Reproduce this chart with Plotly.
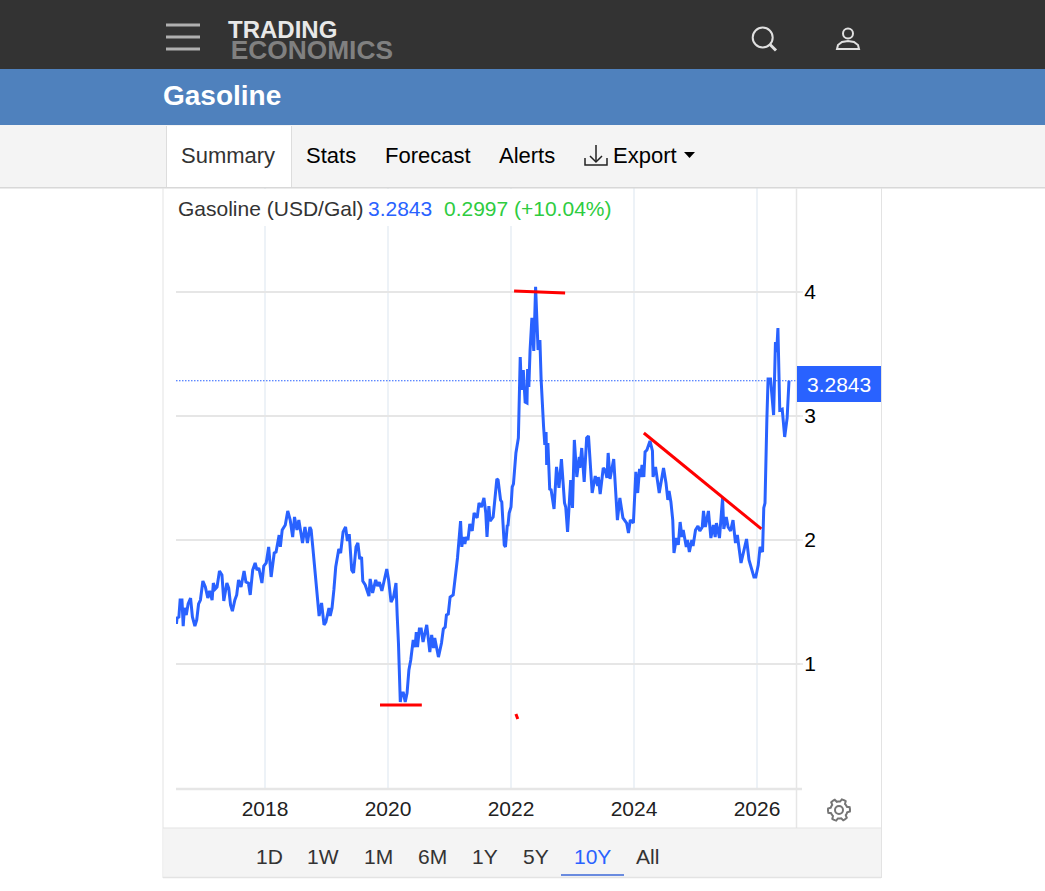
import math

import plotly.graph_objects as go

W = 1045
H = 891

BLUE = '#2962ff'
GRID = '#e6e6e6'
VGRID = '#edf2f7'
BORDER = '#e3e3e3'
TEXT = '#333333'

# gasoline price (decimal year, USD/Gal)
years = [
    2016.56, 2016.57, 2016.60, 2016.62, 2016.65, 2016.67, 2016.69, 2016.72, 2016.75, 2016.79,
    2016.82, 2016.86, 2016.89, 2016.92, 2016.95, 2016.99, 2017.03, 2017.07, 2017.10, 2017.14,
    2017.16, 2017.19, 2017.22, 2017.26, 2017.30, 2017.33, 2017.38, 2017.41, 2017.44, 2017.47,
    2017.51, 2017.54, 2017.57, 2017.61, 2017.66, 2017.69, 2017.73, 2017.76, 2017.80, 2017.84,
    2017.87, 2017.90, 2017.95, 2017.98, 2018.02, 2018.06, 2018.10, 2018.15, 2018.18, 2018.23,
    2018.25, 2018.28, 2018.33, 2018.37, 2018.41, 2018.45, 2018.48, 2018.52, 2018.55, 2018.59,
    2018.61, 2018.65, 2018.69, 2018.73, 2018.75, 2018.78, 2018.81, 2018.85, 2018.88, 2018.92,
    2018.96, 2018.99, 2019.04, 2019.06, 2019.09, 2019.12, 2019.15, 2019.20, 2019.23, 2019.27,
    2019.31, 2019.34, 2019.37, 2019.41, 2019.44, 2019.48, 2019.51, 2019.54, 2019.57, 2019.59,
    2019.63, 2019.69, 2019.71, 2019.75, 2019.80, 2019.83, 2019.86, 2019.90, 2019.95, 2019.98,
    2020.01, 2020.05, 2020.09, 2020.13, 2020.15, 2020.17, 2020.20, 2020.22, 2020.25, 2020.28,
    2020.31, 2020.34, 2020.37, 2020.41, 2020.44, 2020.46, 2020.48, 2020.51, 2020.54, 2020.57,
    2020.63, 2020.68, 2020.71, 2020.74, 2020.76, 2020.82, 2020.87, 2020.90, 2020.93, 2020.95,
    2020.98, 2021.01, 2021.06, 2021.10, 2021.13, 2021.18, 2021.20, 2021.22, 2021.25, 2021.27,
    2021.30, 2021.33, 2021.37, 2021.40, 2021.45, 2021.48, 2021.52, 2021.56, 2021.59, 2021.61,
    2021.64, 2021.66, 2021.71, 2021.77, 2021.79, 2021.83, 2021.85, 2021.89, 2021.91, 2021.94,
    2021.95, 2021.97, 2022.00, 2022.02, 2022.04, 2022.08, 2022.12, 2022.15, 2022.17, 2022.20,
    2022.23, 2022.26, 2022.27, 2022.29, 2022.31, 2022.34, 2022.37, 2022.40, 2022.42, 2022.44,
    2022.47, 2022.49, 2022.53, 2022.55, 2022.57, 2022.58, 2022.60, 2022.63, 2022.65, 2022.70,
    2022.74, 2022.78, 2022.82, 2022.87, 2022.89, 2022.92, 2022.97, 2023.00, 2023.03, 2023.07,
    2023.11, 2023.12, 2023.15, 2023.19, 2023.23, 2023.26, 2023.32, 2023.37, 2023.41, 2023.42,
    2023.45, 2023.50, 2023.53, 2023.56, 2023.58, 2023.61, 2023.67, 2023.73, 2023.77, 2023.82,
    2023.88, 2023.91, 2023.94, 2023.99, 2024.03, 2024.06, 2024.09, 2024.11, 2024.13, 2024.16,
    2024.18, 2024.21, 2024.26, 2024.30, 2024.31, 2024.35, 2024.41, 2024.48, 2024.52, 2024.55,
    2024.57, 2024.60, 2024.63, 2024.65, 2024.69, 2024.72, 2024.75, 2024.78, 2024.80, 2024.85,
    2024.87, 2024.90, 2024.94, 2024.96, 2025.00, 2025.04, 2025.07, 2025.11, 2025.13, 2025.16,
    2025.21, 2025.25, 2025.29, 2025.32, 2025.34, 2025.39, 2025.44, 2025.46, 2025.50, 2025.53,
    2025.57, 2025.61, 2025.65, 2025.68, 2025.74, 2025.79, 2025.83, 2025.87, 2025.91, 2025.95,
    2025.98, 2026.02, 2026.05, 2026.09, 2026.11, 2026.13, 2026.16, 2026.18, 2026.22, 2026.26,
    2026.27, 2026.30, 2026.32, 2026.34, 2026.37, 2026.41, 2026.45, 2026.49, 2026.52,
]
prices = [
    1.323, 1.371, 1.379, 1.516, 1.516, 1.306, 1.452, 1.395, 1.484, 1.532,
    1.379, 1.306, 1.355, 1.484, 1.516, 1.669, 1.621, 1.532, 1.589, 1.516,
    1.653, 1.605, 1.621, 1.750, 1.718, 1.508, 1.653, 1.613, 1.476, 1.427,
    1.516, 1.557, 1.678, 1.621, 1.750, 1.661, 1.653, 1.557, 1.758, 1.815,
    1.758, 1.774, 1.653, 1.790, 1.815, 1.944, 1.702, 1.895, 1.903, 2.040,
    1.944, 2.081, 2.121, 2.234, 2.161, 2.024, 2.186, 2.081, 2.161, 2.008,
    1.976, 2.105, 1.976, 2.105, 2.081, 1.928, 1.758, 1.597, 1.387, 1.492,
    1.315, 1.339, 1.452, 1.387, 1.452, 1.597, 1.782, 1.928, 1.895, 2.065,
    2.105, 1.992, 2.048, 1.758, 1.734, 1.944, 1.976, 1.847, 1.863, 1.669,
    1.637, 1.548, 1.686, 1.573, 1.678, 1.629, 1.661, 1.589, 1.710, 1.766,
    1.678, 1.500, 1.540, 1.653, 1.387, 1.169, 0.694, 0.766, 0.766, 0.694,
    0.766, 0.952, 1.032, 1.194, 1.137, 1.258, 1.137, 1.282, 1.282, 1.177,
    1.315, 1.097, 1.234, 1.129, 1.210, 1.056, 1.169, 1.282, 1.298, 1.395,
    1.403, 1.540, 1.557, 1.702, 1.855, 2.153, 1.944, 2.024, 1.968, 2.024,
    2.000, 2.129, 2.073, 2.218, 2.178, 2.299, 2.266, 2.339, 2.218, 2.024,
    2.274, 2.153, 2.186, 2.492, 2.484, 2.323, 2.307, 1.960, 1.944, 2.121,
    2.113, 2.218, 2.266, 2.428, 2.452, 2.702, 2.823, 3.476, 3.210, 3.371,
    3.113, 3.105, 3.379, 3.234, 3.532, 3.791, 3.524, 4.041, 3.831, 3.532,
    3.613, 3.291, 2.911, 2.766, 2.871, 2.605, 2.782, 2.403, 2.411, 2.250,
    2.589, 2.420, 2.653, 2.299, 2.266, 2.065, 2.484, 2.258, 2.807, 2.508,
    2.669, 2.581, 2.742, 2.468, 2.823, 2.839, 2.379, 2.516, 2.436, 2.508,
    2.371, 2.581, 2.565, 2.500, 2.702, 2.492, 2.653, 2.161, 2.339, 2.178,
    2.137, 2.057, 2.161, 2.137, 2.549, 2.379, 2.573, 2.508, 2.605, 2.508,
    2.710, 2.726, 2.799, 2.718, 2.508, 2.589, 2.379, 2.581, 2.460, 2.323,
    2.395, 2.307, 2.161, 1.895, 2.016, 1.960, 2.145, 2.024, 2.081, 1.944,
    2.000, 1.903, 2.000, 1.952, 2.081, 2.113, 2.073, 2.105, 2.234, 2.105,
    2.234, 2.016, 2.121, 2.024, 2.137, 2.016, 2.339, 2.089, 2.186, 2.105,
    2.073, 2.161, 1.976, 2.040, 1.815, 1.919, 2.008, 1.839, 1.758, 1.702,
    1.702, 1.798, 1.944, 1.903, 2.258, 2.298, 2.968, 3.298, 3.298, 3.008,
    3.008, 3.597, 3.516, 3.710, 3.048, 3.056, 2.831, 2.984, 3.2843,
]

# the red lines somebody drew on the chart
low_x = [2019.87, 2020.55]
low_y = [0.669, 0.669]
high_x = [2022.05, 2022.88]
high_y = [4.008, 3.992]
trend_x = [2024.16, 2026.07]
trend_y = [2.863, 2.089]
speck_x = [2022.08, 2022.11]
speck_y = [0.597, 0.556]

last_x = [2016.553, 2026.634]
last_y = [3.2843, 3.2843]

year_ticks = [2018, 2020, 2022, 2024, 2026]
price_ticks = [1, 2, 3, 4]
ranges = ['1D', '1W', '1M', '6M', '1Y', '5Y', '10Y', 'All']
range_pos = [269, 323, 378, 432, 485, 536, 592, 647]


def fx(x):
    return x / W


def fy(y):
    return 1 - y / H


def rect(x0, y0, x1, y1, color):
    return dict(type='rect', xref='paper', yref='paper', x0=fx(x0), x1=fx(x1), y0=fy(y0), y1=fy(y1),
                fillcolor=color, line=dict(width=0), layer='above')


def seg(x0, y0, x1, y1, color, width=1):
    return dict(type='line', xref='paper', yref='paper', x0=fx(x0), x1=fx(x1), y0=fy(y0), y1=fy(y1),
                line=dict(color=color, width=width), layer='above')


def circle(cx, cy, r, color, width=2):
    return dict(type='circle', xref='paper', yref='paper', x0=fx(cx - r), x1=fx(cx + r),
                y0=fy(cy - r), y1=fy(cy + r), line=dict(color=color, width=width), layer='above')


def poly(points, color, width=0, fill=None, close=True):
    d = 'M ' + ' L '.join('%.5f %.5f' % (fx(x), fy(y)) for x, y in points)
    if close:
        d += ' Z'
    return dict(type='path', xref='paper', yref='paper', path=d, fillcolor=fill,
                line=dict(color=color, width=width), layer='above')


def label(text, x, y, size=21, color=TEXT, anchor='left', bold=False):
    if bold:
        text = '<b>' + text + '</b>'
    return dict(text=text, xref='paper', yref='paper', x=fx(x), y=fy(y), xanchor=anchor, yanchor='middle',
                showarrow=False, borderpad=0, font=dict(family='Liberation Sans', size=size, color=color))


# gear icon below the y axis
gear = []
for i in range(48):
    a = 2 * math.pi * i / 48
    r = 11 if (i + 2) % 8 < 4 else 8.5
    gear.append((839 + r * math.cos(a), 810 + r * math.sin(a)))

shapes = [
    # page header
    rect(0, 0, W, 69, '#333333'),
    rect(0, 69, W, 125, '#4f81bd'),
    rect(0, 125, W, 187, '#f4f4f4'),
    rect(0, 187, W, 188.5, '#d8d8d8'),
    rect(167, 126, 291, 187, '#ffffff'),
    seg(166.5, 126, 166.5, 187, '#dddddd'),
    seg(291.5, 126, 291.5, 187, '#dddddd'),
    # menu icon
    seg(166, 25, 200, 25, '#b0b0b0', 3),
    seg(166, 37, 200, 37, '#b0b0b0', 3),
    seg(166, 49, 200, 49, '#b0b0b0', 3),
    # search and user icons
    circle(762.7, 37.5, 10, '#e0e0e0'),
    seg(770, 44.5, 776, 50.5, '#e0e0e0', 3),
    circle(848, 33.5, 5, '#e0e0e0'),
    poly([(837, 49), (838, 45), (842, 42), (848, 41), (854, 42), (858, 45), (859, 49)], '#e0e0e0', 2),
    # export icon and caret
    seg(596, 145, 596, 162, '#222222', 1.5),
    poly([(590, 156), (596, 162), (602, 156)], '#222222', 1.5, close=False),
    poly([(585, 158), (585, 165), (607, 165), (607, 158)], '#222222', 1.5, close=False),
    poly([(684, 152), (695, 152), (689.5, 158)], '#000000', 0, '#000000'),
    # white strip behind the quote line
    rect(164, 189, 625, 226, '#ffffff'),
    # chart panel
    seg(163, 188, 163, 878, BORDER),
    seg(881.5, 188, 881.5, 878, BORDER),
    seg(796.5, 188, 796.5, 828, GRID, 1.5),
    seg(176, 789, 802, 789, GRID, 2.5),
    rect(163.5, 828, 881, 877, '#f4f4f4'),
    seg(163, 828, 881, 828, BORDER),
    seg(163, 877.5, 881, 877.5, BORDER, 1.5),
    seg(561, 875, 624, 875, '#3d68d8', 1.5),
    # last price tag
    rect(797, 366, 881, 402, BLUE),
    poly(gear, '#757575', 2),
    circle(839, 810, 4, '#757575'),
]

# tick marks run a little further out than the axis labels' usual gap allows
for v in price_ticks:
    shapes.append(dict(type='line', xref='paper', yref='y', x0=fx(796), x1=fx(803), y0=v, y1=v,
                       line=dict(color=GRID, width=1.5), layer='above'))

logo = ('<b><span style="font-size:24px;color:#e8e8e8">TRADING</span><br>'
        '<span style="font-size:10px">&nbsp;</span><span style="font-size:26.3px;color:#808080">ECONOMICS</span></b>')

annotations = [
    dict(text=logo, xref='paper', yref='paper', x=fx(227), y=fy(40), xanchor='left', yanchor='middle',
         align='left', showarrow=False, borderpad=0, font=dict(family='Liberation Sans', size=16, color='#e8e8e8')),
    label('Gasoline', 162, 96, 28, '#ffffff', bold=True),
    label('Summary', 180, 155, 22, '#333333'),
    label('Stats', 305, 155, 22, '#000000'),
    label('Forecast', 384, 155, 22, '#000000'),
    label('Alerts', 498, 155, 22, '#000000'),
    label('Export', 612, 155, 22, '#000000'),
    label('Gasoline (USD/Gal)', 177, 208, 21, '#333333'),
    label('3.2843', 367, 208, 21, BLUE),
    label('0.2997', 443, 208, 21, '#2ecc40'),
    label('(+10.04%)', 513, 208, 21, '#2ecc40'),
    label('3.2843', 839, 385, 21, '#ffffff', anchor='center'),
]
for name, pos in zip(ranges, range_pos):
    annotations.append(label(name, pos, 856, 21, BLUE if name == '10Y' else '#333333', anchor='center'))

fig = go.Figure()

fig.add_trace(go.Scatter(x=last_x, y=last_y, mode='lines', line=dict(color=BLUE, width=1.2, dash='1.5px,1.5px')))
fig.add_trace(go.Scatter(x=years, y=prices, mode='lines', line=dict(color=BLUE, width=3)))

for xs, ys in [(low_x, low_y), (high_x, high_y), (trend_x, trend_y), (speck_x, speck_y)]:
    fig.add_trace(go.Scatter(x=xs, y=ys, mode='lines', line=dict(color='#ff0000', width=3)))

fig.update_layout(
    width=W,
    height=H,
    autosize=False,
    showlegend=False,
    margin=dict(l=0, r=0, t=0, b=0),
    paper_bgcolor='#ffffff',
    plot_bgcolor='#ffffff',
    font=dict(family='Liberation Sans', size=21, color=TEXT),
    xaxis=dict(
        domain=[fx(176), fx(796)],
        range=[2016.553, 2026.634],
        tickmode='array',
        tickvals=year_ticks,
        ticktext=[str(y) for y in year_ticks],
        showgrid=True,
        gridcolor=VGRID,
        gridwidth=1.5,
        zeroline=False,
        showline=False,
        ticks='outside',
        ticklen=2,
        tickcolor='rgba(0,0,0,0)',
        tickfont=dict(color='#222222', size=21),
        anchor='y',
    ),
    yaxis=dict(
        domain=[fy(788), fy(188)],
        range=[0, 4.8387],
        side='right',
        anchor='x',
        tickmode='array',
        tickvals=price_ticks,
        ticktext=[str(v) for v in price_ticks],
        showgrid=True,
        gridcolor=GRID,
        gridwidth=1.5,
        zeroline=False,
        showline=False,
        ticks='outside',
        ticklen=3,
        tickwidth=1.5,
        tickcolor=GRID,
        tickfont=dict(color='#000000', size=21),
    ),
    shapes=shapes,
    annotations=annotations,
)

fig.write_html("out.html", config=dict(displayModeBar=False),
               post_script="document.body.style.margin='0';document.body.style.overflow='hidden';")
